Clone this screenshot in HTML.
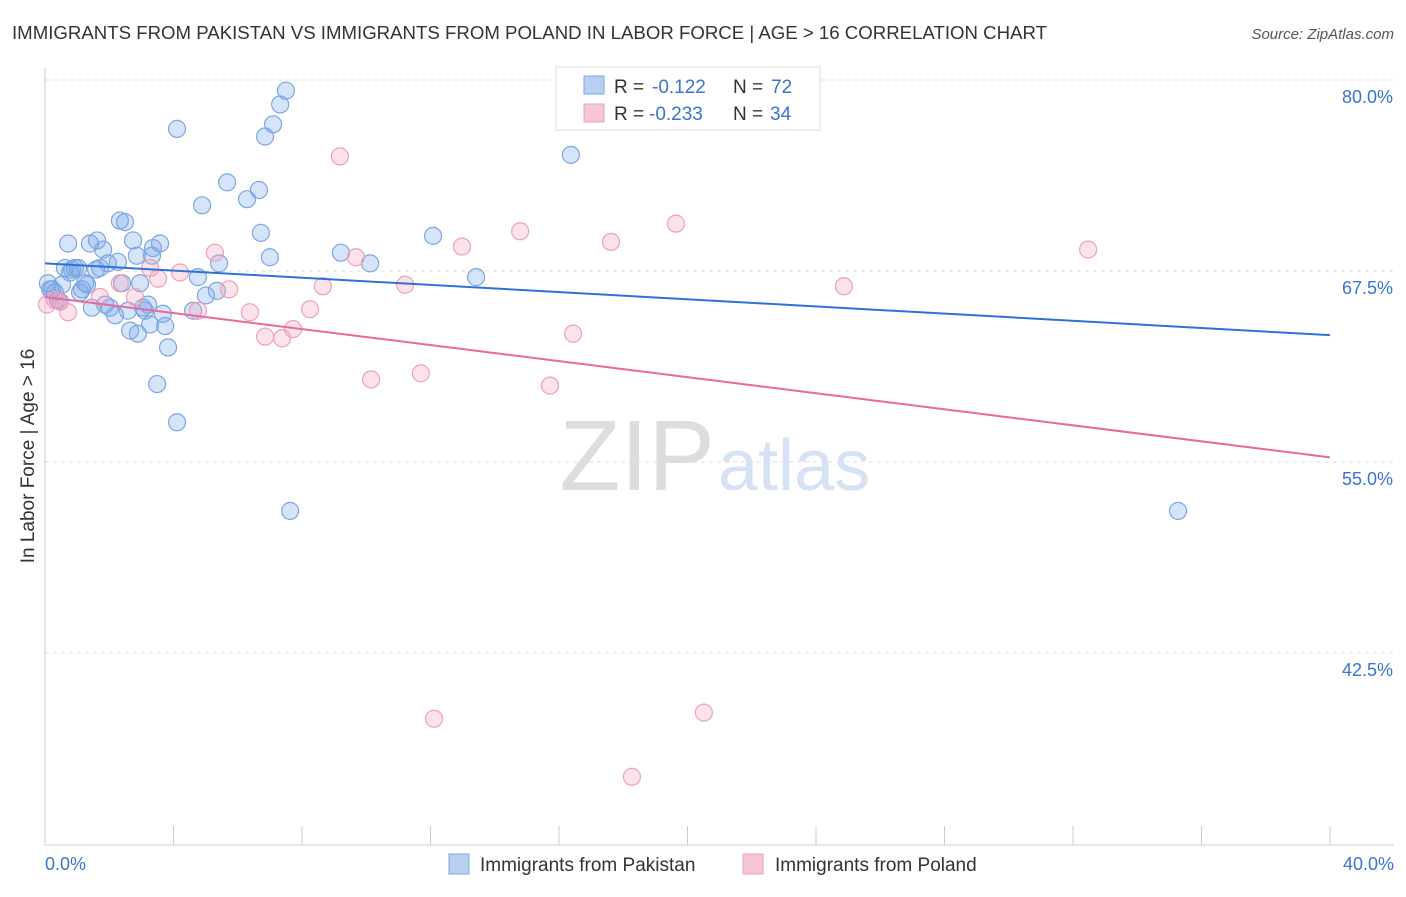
<!DOCTYPE html>
<html><head><meta charset="utf-8"><style>
body{margin:0;background:#fff;font-family:"Liberation Sans",sans-serif;}
svg text{font-family:"Liberation Sans",sans-serif;}
</style></head><body>
<svg width="1406" height="892" viewBox="0 0 1406 892">
<text x="12" y="39" font-size="18.5" fill="#333" textLength="1035" lengthAdjust="spacingAndGlyphs">IMMIGRANTS FROM PAKISTAN VS IMMIGRANTS FROM POLAND IN LABOR FORCE | AGE &gt; 16 CORRELATION CHART</text>
<text x="1394" y="39" font-size="15" fill="#555" text-anchor="end" font-style="italic">Source: ZipAtlas.com</text>
<g id="grid"></g>
<g id="axes"></g>
<text x="715" y="490" font-size="100" fill="#ddd" text-anchor="end" font-family="Liberation Serif">ZIP</text>
<text x="718" y="490" font-size="72" fill="#d4e2f4">atlas</text>
<g id="pts"></g>
<g id="trend"></g>
<text transform="translate(34,456) rotate(-90)" font-size="19" fill="#333" text-anchor="middle">In Labor Force | Age &gt; 16</text>
<text x="45" y="870" font-size="18" fill="#3a73d0">0.0%</text>
<text x="1394" y="870" font-size="18" fill="#3a73d0" text-anchor="end">40.0%</text>
<g>
<rect x="556" y="67" width="264" height="63" fill="#fff" stroke="#ddd"/>
<rect x="584" y="76" width="20" height="18" fill="#b7d0f2" stroke="#7ba7e0"/>
<rect x="584" y="104" width="20" height="18" fill="#f7c6d6" stroke="#eda0ba"/>
<text x="614" y="93" font-size="19" fill="#333">R =</text>
<text x="652" y="93" font-size="19" fill="#3a73d0">-0.122</text>
<text x="733" y="93" font-size="19" fill="#333">N =</text>
<text x="771" y="93" font-size="19" fill="#3a73d0">72</text>
<text x="614" y="120" font-size="19" fill="#333">R =</text>
<text x="649" y="120" font-size="19" fill="#3a73d0">-0.233</text>
<text x="733" y="120" font-size="19" fill="#333">N =</text>
<text x="770" y="120" font-size="19" fill="#3a73d0">34</text>
</g>
<g>
<rect x="449" y="854" width="20" height="20" fill="#b7d0f2" stroke="#7ba7e0"/>
<text x="480" y="871" font-size="19" fill="#333">Immigrants from Pakistan</text>
<rect x="743" y="854" width="20" height="20" fill="#f7c6d6" stroke="#eda0ba"/>
<text x="775" y="871" font-size="19" fill="#333">Immigrants from Poland</text>
</g>
</svg>
<script>
const yTicks=[80,67.5,55,42.5];
const yTickLabels=["80.0%","67.5%","55.0%","42.5%"];
const xTicks=[0,4,8,12,16,20,24,28,32,36,40];
const pakX=[0.09,0.16,0.22,0.31,0.40,0.47,0.53,0.62,0.72,0.78,0.84,0.93,1.03,1.09,1.15,1.25,1.31,1.40,1.46,1.59,1.62,1.71,1.81,1.87,1.96,2.02,2.18,2.27,2.33,2.40,2.49,2.58,2.65,2.74,2.86,2.89,2.96,3.05,3.11,3.21,3.27,3.33,3.36,3.49,3.58,3.67,3.74,3.83,4.11,4.11,4.61,4.76,4.89,5.01,5.35,5.42,5.67,6.29,6.66,6.72,6.85,7.00,7.10,7.32,7.50,7.63,9.21,10.12,12.08,13.42,16.37,35.27];
const pakY=[66.7,66.3,66.3,66.1,65.6,65.5,66.6,67.7,69.3,67.4,67.6,67.7,67.7,66.1,66.3,66.7,66.6,69.3,65.1,67.6,69.5,67.7,68.9,65.3,68.0,65.1,64.6,68.1,70.8,66.7,70.7,64.9,63.6,69.5,68.5,63.4,66.7,65.1,64.9,65.3,64.0,68.5,69.0,60.1,69.3,64.7,63.9,62.5,57.6,76.8,64.9,67.1,71.8,65.9,66.2,68.0,73.3,72.2,72.8,70.0,76.3,68.4,77.1,78.4,79.3,51.8,68.7,68.0,69.8,67.1,75.1,51.8];
const polX=[0.06,0.31,0.47,0.72,1.71,2.33,2.80,3.27,3.52,4.20,4.76,5.29,5.73,6.38,6.85,7.38,7.72,8.25,8.65,9.18,9.68,10.15,11.21,11.70,12.11,12.98,14.79,15.72,16.44,17.62,18.27,19.64,20.51,24.87,32.47];
const polY=[65.3,65.6,65.5,64.8,65.8,66.7,65.8,67.7,67.0,67.4,64.9,68.7,66.3,64.8,63.2,63.1,63.7,65.0,66.5,75.0,68.4,60.4,66.6,60.8,38.2,69.1,70.1,60.0,63.4,69.4,34.4,70.6,38.6,66.5,68.9];
const pakTrend=[68.0,63.3];
const polTrend=[65.8,55.3];
const NS="http://www.w3.org/2000/svg";
const xs=v=>45+v*(1330-45)/40;
const ys=v=>80+(80-v)*191/12.5;
function mk(t,a,p){const e=document.createElementNS(NS,t);for(const k in a)e.setAttribute(k,a[k]);p.appendChild(e);return e;}
const grid=document.getElementById('grid'),axes=document.getElementById('axes');
yTicks.forEach((v,i)=>{
 const l=mk('line',{x1:45,x2:1394,y1:ys(v),y2:ys(v),stroke:'#ddd','stroke-dasharray':'4,4'},grid);
 
 
 const t=mk('text',{x:1393,y:ys(v)+23,'font-size':18,fill:'#3a73d0','text-anchor':'end'},grid);
 t.textContent=yTickLabels[i];
 
 
});
const ax=mk('line',{x1:45,x2:45,y1:68,y2:845,stroke:'#ccc'},axes);


const bx=mk('line',{x1:45,x2:1394,y1:845,y2:845,stroke:'#ccc'},axes);


xTicks.forEach(v=>{
 const t=mk('line',{x1:xs(v),x2:xs(v),y1:826,y2:845,stroke:'#ccc'},axes);
 
 
});
const pts=document.getElementById('pts');
pakX.forEach((x,i)=>{
 const c=mk('circle',{cx:xs(x),cy:ys(pakY[i]),r:8.5,fill:'rgba(120,165,235,0.3)',stroke:'#7ba7e0','stroke-width':1.2},pts);
 
 
});
polX.forEach((x,i)=>{
 const c=mk('circle',{cx:xs(x),cy:ys(polY[i]),r:8.5,fill:'rgba(245,160,190,0.3)',stroke:'#eda0ba','stroke-width':1.2},pts);
 
 
});
const tr=document.getElementById('trend');
const t1=mk('line',{x1:xs(0),x2:xs(40),y1:ys(pakTrend[0]),y2:ys(pakTrend[1]),stroke:'#2f72d6','stroke-width':2},tr);


const t2=mk('line',{x1:xs(0),x2:xs(40),y1:ys(polTrend[0]),y2:ys(polTrend[1]),stroke:'#e8699a','stroke-width':2},tr);


</script>
</body></html>
